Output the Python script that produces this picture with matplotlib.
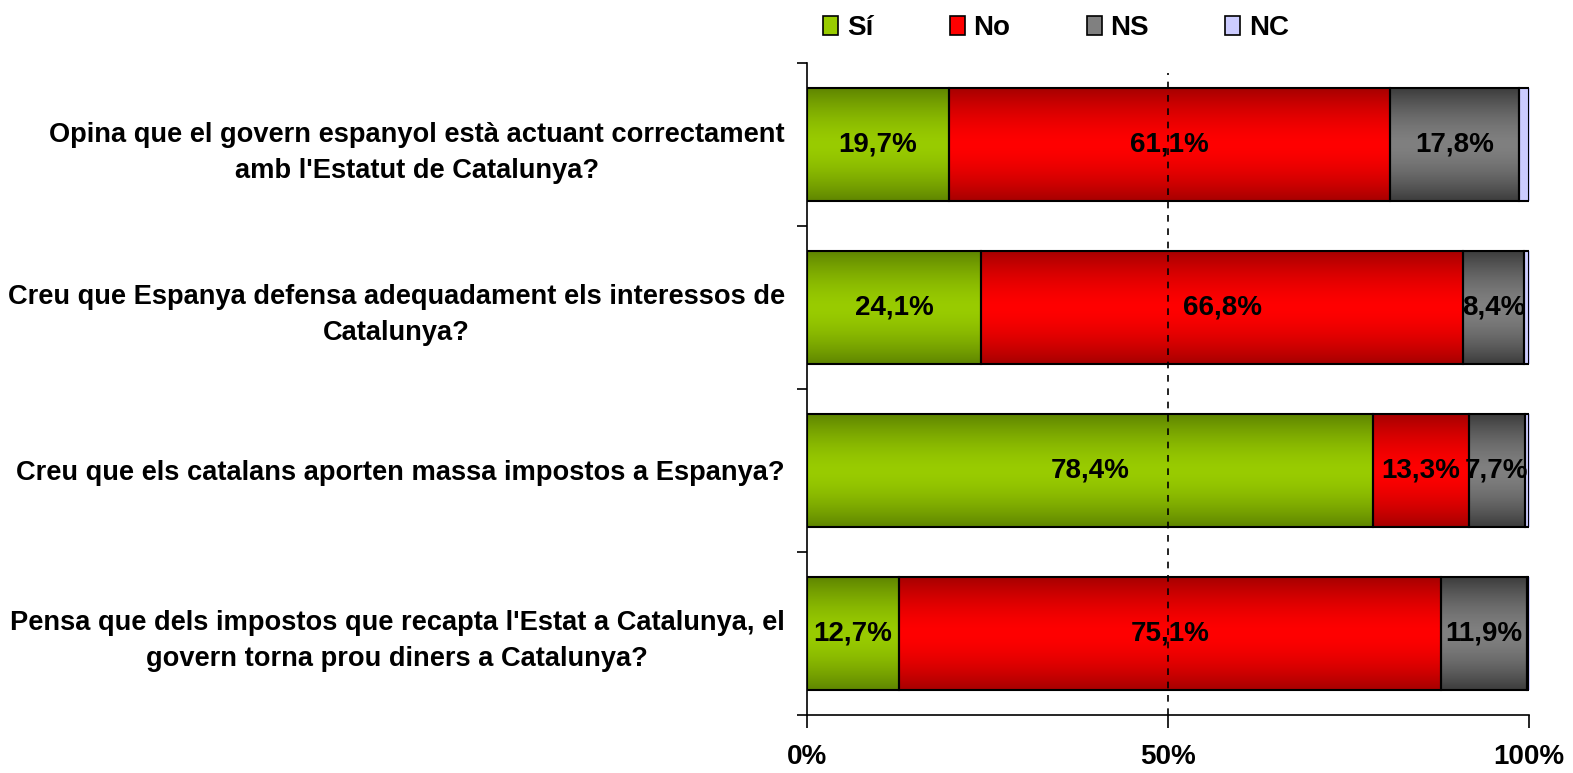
import numpy as np
import matplotlib
matplotlib.use("Agg")
import matplotlib.pyplot as plt
from matplotlib.patches import Patch

plt.rcParams['font.family'] = ['Liberation Sans Narrow', 'Liberation Sans', 'DejaVu Sans']
plt.rcParams['font.weight'] = 'bold'

# questions (top to bottom) and answer shares in %
questions = [
    "Opina que el govern espanyol està actuant correctament\namb l'Estatut de Catalunya?",
    "Creu que Espanya defensa adequadament els interessos de\nCatalunya?",
    "Creu que els catalans aporten massa impostos a Espanya?",
    "Pensa que dels impostos que recapta l'Estat a Catalunya, el\ngovern torna prou diners a Catalunya?",
]
series_names = ["Sí", "No", "NS", "NC"]
si = [19.7, 24.1, 78.4, 12.7]
no = [61.1, 66.8, 13.3, 75.1]
ns = [17.8, 8.4, 7.7, 11.9]
nc = [1.4, 0.7, 0.6, 0.3]
show_label = [True, True, True, False]

# dark edge colour / bright centre colour per series
dark_cols = ["#5f8500", "#a60000", "#3c3c3c", "#ccccff"]
light_cols = ["#99cc00", "#ff0000", "#808080", "#ccccff"]

fig = plt.figure(figsize=(15.73, 7.73), dpi=100)
ax = fig.add_axes([807 / 1573, 1 - 715 / 773, (1529 - 807) / 1573, (715 - 63) / 773])

y = np.arange(len(questions))
left = np.zeros(len(questions))
bar_h = 0.69


def fill_gradient(ax, patch, dark, light):
    x0, y0 = patch.get_x(), patch.get_y()
    w, h = patch.get_width(), patch.get_height()
    t = np.abs(np.linspace(-1, 1, 200)) ** 1.6
    d = np.array(matplotlib.colors.to_rgb(dark))
    l = np.array(matplotlib.colors.to_rgb(light))
    img = (d[None, :] * t[:, None] + l[None, :] * (1 - t[:, None]))[:, None, :]
    im = ax.imshow(img, extent=[x0, x0 + w, y0 + h, y0], aspect='auto',
                   interpolation='bilinear', zorder=1)
    im.set_clip_path(patch)


for vals, name, dk, lt, lab in zip([si, no, ns, nc], series_names, dark_cols,
                                   light_cols, show_label):
    bars = ax.barh(y, vals, left=left, height=bar_h, facecolor='none',
                   edgecolor='black', linewidth=1.5, zorder=2)
    for b in bars:
        fill_gradient(ax, b, dk, lt)
    if lab:
        for yi, v, l0 in zip(y, vals, left):
            ax.text(l0 + v / 2, yi, f"{v:.1f}%".replace('.', ','), ha='center',
                    va='center', fontsize=20, fontweight='bold', zorder=4)
    left = left + np.array(vals)

ax.axvline(50, ymax=0.985, color='black', linestyle=(0, (4, 4)), linewidth=1.2, zorder=3)

ax.set_xlim(0, 100)
ax.set_ylim(len(questions) - 0.5, -0.5)

ax.set_yticks(y)
ax.set_yticklabels(questions, fontsize=19.6, fontweight='bold', multialignment='center',
                   linespacing=1.5)
ax.tick_params(axis='y', which='major', length=0, pad=16)
ax.set_yticks(np.arange(len(questions) + 1) - 0.5, minor=True)
ax.tick_params(axis='y', which='minor', length=7, width=1.2, direction='out')

ax.set_xticks([0, 50, 100])
ax.set_xticklabels(["0%", "50%", "100%"], fontsize=20, fontweight='bold')
ax.tick_params(axis='x', length=9, width=1.2, direction='out', pad=12)

for s in ['top', 'right']:
    ax.spines[s].set_visible(False)
for s in ['left', 'bottom']:
    ax.spines[s].set_linewidth(1.2)

handles = [Patch(facecolor=lt, edgecolor='black', linewidth=1.2) for lt in light_cols]
fig.legend(handles, series_names, loc='center', bbox_to_anchor=(1056 / 1573, 1 - 28 / 773),
           ncol=4, frameon=False, prop={'size': 20, 'weight': 'bold'},
           handlelength=0.55, handleheight=0.7, handletextpad=0.3, columnspacing=2.75)

fig.savefig("out.png", dpi=100)
